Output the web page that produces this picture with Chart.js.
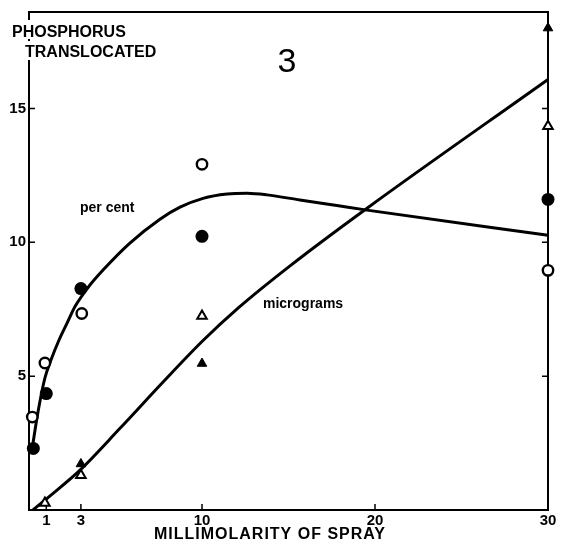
<!DOCTYPE html>
<html><head><meta charset="utf-8">
<script src="https://cdn.jsdelivr.net/npm/chart.js@4"></script>
<style>html,body{margin:0;padding:0;background:#fff}</style>
</head><body>
<canvas id="c" width="561" height="551"></canvas>
<script>
// Tick labels
const xTicks = [1, 3, 10, 20, 30];
const yTicks = [5, 10, 15];
// Per cent (circles)
const pctFilledX = [0.25, 1, 3, 10, 30];
const pctFilledY = [2.3, 4.35, 8.27, 10.22, 11.6];
const pctOpenX = [0.19, 0.92, 3.05, 10, 30];
const pctOpenY = [3.47, 5.49, 7.34, 12.91, 8.95];
// Micrograms (triangles)
const ugFilledX = [3, 10, 30];
const ugFilledY = [1.72, 5.47, 18.0];
const ugOpenX = [0.92, 3, 10, 30];
const ugOpenY = [0.26, 1.3, 7.25, 14.33];
// Fitted curves as drawn
const pctCurveX = [0.17, 0.52, 0.92, 1.27, 1.73, 2.2, 2.66, 3.4, 4.28, 5.8, 7.57, 8.73, 10.06, 11.45, 12.6, 13.76, 15.66, 17.8, 19.54, 30];
const pctCurveY = [2.24, 3.66, 4.93, 5.6, 6.34, 6.98, 7.6, 8.3, 8.96, 9.95, 10.86, 11.31, 11.64, 11.8, 11.83, 11.77, 11.58, 11.37, 11.2, 10.26];
const ugCurveX = [0.23, 0.92, 2.95, 5.26, 7.75, 10.06, 12.1, 15.09, 19.6, 30];
const ugCurveY = [0, 0.37, 1.49, 3.05, 4.78, 6.33, 7.55, 9.12, 11.3, 16.08];

const pts = (xs, ys) => xs.map((x, i) => ({x: x, y: ys[i]}));

const framePlugin = {
  id: 'frame',
  beforeDatasetsDraw(chart) {
    const ctx = chart.ctx, a = chart.chartArea;
    const xs = chart.scales.x, ys = chart.scales.y;
    ctx.save();
    ctx.strokeStyle = '#000';
    ctx.lineWidth = 2;
    ctx.strokeRect(a.left, a.top, a.right - a.left, a.bottom - a.top);
    ctx.lineWidth = 1.5;
    ctx.beginPath();
    xTicks.forEach(v => {
      const px = xs.getPixelForValue(v);
      ctx.moveTo(px, a.bottom); ctx.lineTo(px, a.bottom - 6);
    });
    yTicks.forEach(v => {
      const py = ys.getPixelForValue(v);
      ctx.moveTo(a.left, py); ctx.lineTo(a.left + 6, py);
      ctx.moveTo(a.right, py); ctx.lineTo(a.right - 6, py);
    });
    ctx.stroke();
    ctx.restore();
  },
  afterDraw(chart) {
    const ctx = chart.ctx;
    ctx.save();
    ctx.fillStyle = '#000';
    ctx.textBaseline = 'alphabetic';
    ctx.textAlign = 'left';
    ctx.font = 'bold 16px "Liberation Sans", Arial, sans-serif';
    const t1 = 'PHOSPHORUS', t2 = 'TRANSLOCATED';
    const w1 = ctx.measureText(t1).width, w2 = ctx.measureText(t2).width;
    ctx.fillStyle = '#fff';
    ctx.fillRect(10, 20, w1 + 4, 19);
    ctx.fillRect(23, 41, w2 + 4, 19);
    ctx.fillStyle = '#000';
    ctx.fillText(t1, 12, 37);
    ctx.fillText(t2, 25, 57);
    ctx.font = '34px "Liberation Sans", Arial, sans-serif';
    ctx.textAlign = 'center';
    ctx.fillText('3', 287, 72);
    ctx.font = 'bold 14px "Liberation Sans", Arial, sans-serif';
    ctx.textAlign = 'left';
    ctx.fillText('per cent', 80, 212);
    ctx.fillText('micrograms', 263, 308);
    ctx.font = 'bold 16px "Liberation Sans", Arial, sans-serif';
    ctx.letterSpacing = '1px';
    ctx.textAlign = 'center';
    ctx.fillText('MILLIMOLARITY OF SPRAY', 270, 539);
    ctx.restore();
  }
};

new Chart(document.getElementById('c'), {
  type: 'scatter',
  data: {
    datasets: [
      {label: 'per cent curve', data: pts(pctCurveX, pctCurveY), showLine: true, borderColor: '#000', borderWidth: 3, pointRadius: 0, cubicInterpolationMode: 'monotone', order: 2, clip: false},
      {label: 'micrograms curve', data: pts(ugCurveX, ugCurveY), showLine: true, borderColor: '#000', borderWidth: 3, pointRadius: 0, cubicInterpolationMode: 'monotone', order: 2, clip: false},
      {label: 'per cent (filled)', data: pts(pctFilledX, pctFilledY), pointStyle: 'circle', pointRadius: 6.5, backgroundColor: '#000', borderColor: '#000', borderWidth: 0, order: 1, clip: false},
      {label: 'per cent (open)', data: pts(pctOpenX, pctOpenY), pointStyle: 'circle', pointRadius: 5.2, backgroundColor: '#fff', borderColor: '#000', borderWidth: 2.4, order: 1, clip: false},
      {label: 'micrograms (filled)', data: pts(ugFilledX, ugFilledY), pointStyle: 'triangle', pointRadius: 5.5, backgroundColor: '#000', borderColor: '#000', borderWidth: 1, order: 1, clip: false},
      {label: 'micrograms (open)', data: pts(ugOpenX, ugOpenY), pointStyle: 'triangle', pointRadius: 5.5, backgroundColor: '#fff', borderColor: '#000', borderWidth: 2, order: 1, clip: false}
    ]
  },
  options: {
    responsive: false,
    devicePixelRatio: 1,
    animation: false,
    layout: {padding: {top: 10, right: 13, left: 0, bottom: 0}},
    plugins: {legend: {display: false}, tooltip: {enabled: false}},
    scales: {
      x: {
        type: 'linear', min: 0, max: 30,
        grid: {display: false, drawTicks: false},
        border: {display: false},
        afterBuildTicks: s => { s.ticks = xTicks.map(v => ({value: v})); },
        afterFit: s => { s.height = 41; },
        ticks: {color: '#000', font: {family: '"Liberation Sans", Arial, sans-serif', size: 15, weight: 'bold'}, padding: 2, maxRotation: 0, autoSkip: false, callback: v => String(v)}
      },
      y: {
        type: 'linear', min: 0, max: 18.6,
        grid: {display: false, drawTicks: false},
        border: {display: false},
        afterBuildTicks: s => { s.ticks = yTicks.map(v => ({value: v})); },
        afterFit: s => { s.width = 29; },
        ticks: {color: '#000', font: {family: '"Liberation Sans", Arial, sans-serif', size: 15, weight: 'bold'}, padding: 3, callback: v => String(v)}
      }
    }
  },
  plugins: [framePlugin]
});
</script>
</body></html>
